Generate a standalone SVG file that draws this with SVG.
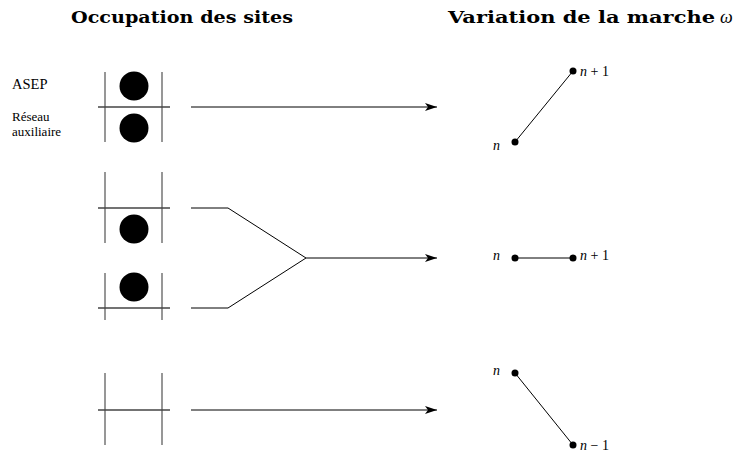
<svg xmlns="http://www.w3.org/2000/svg" width="734" height="455" viewBox="0 0 734 455">
<style>
.grid{stroke:#6b6b6b;stroke-width:1.4;fill:none}
.gridh{stroke:#444;stroke-width:1.4;fill:none}
.conn{stroke:#000;stroke-width:1;fill:none}
.dot{fill:#000}
.title{font-family:"DejaVu Serif","Liberation Serif",serif;font-weight:bold;font-size:17px}
.lbl{font-family:"Liberation Serif",serif}
.math{font-family:"Liberation Serif",serif;font-style:italic;font-size:14px}
.mathr{font-family:"Liberation Serif",serif;font-size:14px}
</style>
<defs>
<marker id="arr" markerWidth="14" markerHeight="8" refX="12" refY="4" orient="auto" markerUnits="userSpaceOnUse">
<path d="M0,0 L12,4 L0,8 L3,4 Z" fill="#000"/>
</marker>
</defs>
<rect width="734" height="455" fill="#fff"/>
<text class="title" x="71" y="23" textLength="222" lengthAdjust="spacingAndGlyphs">Occupation des sites</text>
<text class="title" x="448" y="23" textLength="267" lengthAdjust="spacingAndGlyphs">Variation de la marche</text>
<text class="lbl" x="720" y="23" font-size="18" font-style="italic">ω</text>
<g id="labels">
<text class="lbl" x="12" y="89" font-size="14.5">ASEP</text>
<text class="lbl" x="12" y="121" font-size="13">Réseau</text>
<text class="lbl" x="12" y="136" font-size="13">auxiliaire</text>
</g>
<g id="site1">
<line class="grid" x1="105" y1="72" x2="105" y2="142"/>
<line class="grid" x1="162" y1="72" x2="162" y2="142"/>
<line class="gridh" x1="98" y1="107" x2="170" y2="107"/>
<circle class="dot" cx="134" cy="86" r="14.5"/>
<circle class="dot" cx="134" cy="128" r="14.5"/>
</g>
<g id="site2a">
<line class="grid" x1="105" y1="172" x2="105" y2="243"/>
<line class="grid" x1="162" y1="172" x2="162" y2="243"/>
<line class="gridh" x1="98" y1="208" x2="170" y2="208"/>
<circle class="dot" cx="134" cy="229" r="14.5"/>
</g>
<g id="site2b">
<line class="grid" x1="105" y1="273" x2="105" y2="320"/>
<line class="grid" x1="162" y1="273" x2="162" y2="320"/>
<line class="gridh" x1="98" y1="308" x2="170" y2="308"/>
<circle class="dot" cx="134" cy="287" r="14.5"/>
</g>
<g id="site3">
<line class="grid" x1="105" y1="373" x2="105" y2="445"/>
<line class="grid" x1="162" y1="373" x2="162" y2="445"/>
<line class="gridh" x1="98" y1="410" x2="170" y2="410"/>
</g>
<g id="connectors">
<line class="conn" x1="191" y1="107" x2="437" y2="107" marker-end="url(#arr)"/>
<polyline class="conn" points="191,208 228,208 306,258"/>
<polyline class="conn" points="191,308 228,308 306,258"/>
<line class="conn" x1="306" y1="258" x2="437" y2="258" marker-end="url(#arr)"/>
<line class="conn" x1="191" y1="410" x2="437" y2="410" marker-end="url(#arr)"/>
</g>
<g id="walk1">
<line class="conn" x1="515" y1="142" x2="573" y2="71"/>
<circle class="dot" cx="515" cy="142" r="3.5"/>
<circle class="dot" cx="573" cy="71" r="3.5"/>
<text class="math" x="493" y="150">n</text>
<text class="mathr" x="580" y="76"><tspan font-style="italic">n</tspan> + 1</text>
</g>
<g id="walk2">
<line class="conn" x1="515" y1="258" x2="573" y2="258"/>
<circle class="dot" cx="515" cy="258" r="3.5"/>
<circle class="dot" cx="573" cy="258" r="3.5"/>
<text class="math" x="493" y="260">n</text>
<text class="mathr" x="580" y="260"><tspan font-style="italic">n</tspan> + 1</text>
</g>
<g id="walk3">
<line class="conn" x1="515" y1="373" x2="573" y2="445"/>
<circle class="dot" cx="515" cy="373" r="3.5"/>
<circle class="dot" cx="573" cy="445" r="3.5"/>
<text class="math" x="493" y="375">n</text>
<text class="mathr" x="580" y="450"><tspan font-style="italic">n</tspan> − 1</text>
</g>
</svg>
